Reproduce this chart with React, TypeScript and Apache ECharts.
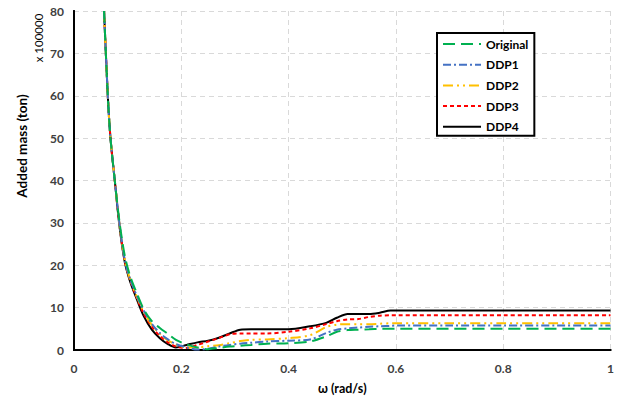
import React, { useEffect, useRef } from "react";
import * as echarts from "echarts";

const omega = [0.056, 0.063, 0.068, 0.076, 0.085, 0.095, 0.105, 0.117, 0.13, 0.145, 0.16, 0.175, 0.19, 0.21, 0.23, 0.25, 0.27, 0.29, 0.31, 0.33, 0.36, 0.4, 0.44, 0.47, 0.49, 0.51, 0.53, 0.55, 0.57, 0.59, 0.6, 0.7, 0.8, 0.9, 1.0];

const original = [80, 60, 50, 40, 30, 22, 17.3, 13.4, 9.6, 6.8, 5.2, 3.8, 2.4, 1.3, 0.6, 0.2, 0.5, 0.8, 1.0, 1.2, 1.5, 1.6, 2.0, 3.2, 4.3, 4.7, 4.8, 4.9, 5.0, 5.0, 5.0, 5.0, 5.0, 5.0, 5.0];
const ddp1 = [80, 60, 50, 40, 29.5, 21, 16.6, 12.8, 9.3, 6.2, 4.0, 2.5, 1.4, 0.6, 0.1, 0.3, 0.8, 1.2, 1.5, 1.7, 2.0, 2.2, 2.5, 4.0, 4.8, 5.1, 5.3, 5.5, 5.6, 5.7, 5.8, 5.8, 5.8, 5.8, 5.8];
const ddp2 = [80, 60, 50, 40, 29.5, 21, 16.5, 12.6, 9.0, 5.9, 3.8, 2.3, 1.3, 0.6, 0.6, 0.9, 1.1, 1.6, 2.1, 2.4, 2.5, 2.8, 3.5, 5.4, 6.0, 6.1, 6.1, 6.1, 6.2, 6.3, 6.3, 6.3, 6.3, 6.3, 6.3];
const ddp3 = [80, 60, 50, 40, 29.2, 20.8, 16.3, 12.3, 8.6, 5.5, 3.3, 1.8, 0.8, 0.5, 1.2, 2.0, 2.8, 3.7, 3.9, 3.9, 3.9, 4.3, 5.1, 6.1, 6.8, 7.2, 7.3, 7.8, 8.1, 8.2, 8.2, 8.2, 8.2, 8.2, 8.2];
const ddp4 = [80, 60, 50, 40, 29, 20.5, 16, 12, 8, 4.8, 2.8, 1.4, 0.6, 1.2, 1.8, 2.2, 2.9, 3.9, 4.8, 4.9, 4.9, 4.9, 5.6, 6.4, 7.6, 8.5, 8.5, 8.5, 8.8, 9.3, 9.3, 9.3, 9.3, 9.3, 9.3];

const seriesNames = ["Original", "DDP1", "DDP2", "DDP3", "DDP4"];
const seriesValues = [original, ddp1, ddp2, ddp3, ddp4];
const seriesColors = ["#00B050", "#4472C4", "#FFC000", "#FF0000", "#000000"];
const seriesDash: any[] = [[12, 6], [8, 3, 2, 3], [10, 4, 2, 4, 2, 4], [4, 3], "solid"];

const FONT = "Lato, 'Open Sans', sans-serif";

export default function App() {
  const ref = useRef<HTMLDivElement>(null);
  useEffect(() => {
    if (!ref.current) return;
    const chart = echarts.init(ref.current, undefined, { renderer: "svg" });
    const border = { show: true, lineStyle: { color: "#000", width: 2 } };
    chart.setOption({
      animation: false,
      backgroundColor: "#fff",
      grid: { left: 74, right: 6, top: 11, bottom: 50 },
      legend: {
        orient: "vertical",
        left: 437,
        top: 33,
        padding: [5, 6, 3, 5],
        borderColor: "#000",
        borderWidth: 2,
        backgroundColor: "#fff",
        itemWidth: 38,
        itemHeight: 14,
        itemGap: 8.7,
        itemStyle: { opacity: 0 },
        textStyle: { fontFamily: FONT, fontWeight: "bold", fontSize: 12, color: "#000" },
        data: seriesNames,
      },
      xAxis: [
        {
          type: "value",
          min: 0,
          max: 1,
          interval: 0.2,
          axisLine: border,
          axisTick: { show: false },
          splitLine: { show: true, lineStyle: { type: [5, 4], color: "#d9d9d9", width: 1 } },
          axisLabel: {
            fontFamily: FONT,
            fontWeight: "bold",
            fontSize: 12,
            color: "#404040",
            margin: 12,
            formatter: (v: number) => String(Math.round(v * 10) / 10),
          },
          name: "ω (rad/s)",
          nameLocation: "middle",
          nameGap: 32,
          nameTextStyle: { fontFamily: FONT, fontWeight: "bold", fontSize: 12.5, color: "#000" },
        },
        {
          type: "value",
          position: "top",
          min: 0,
          max: 1,
          interval: 0.2,
          axisLine: border,
          axisTick: { show: false },
          axisLabel: { show: false },
          splitLine: { show: false },
        },
      ],
      yAxis: [
        {
          type: "value",
          min: 0,
          max: 80,
          interval: 10,
          axisLine: border,
          axisTick: { show: false },
          splitLine: { show: true, lineStyle: { type: [5, 4], color: "#d9d9d9", width: 1 } },
          axisLabel: {
            fontFamily: FONT,
            fontWeight: "bold",
            fontSize: 12,
            color: "#404040",
            margin: 10,
          },
        },
        {
          type: "value",
          position: "right",
          min: 0,
          max: 80,
          interval: 10,
          axisLine: border,
          axisTick: { show: false },
          axisLabel: { show: false },
          splitLine: { show: false },
        },
      ],
      graphic: [
        {
          type: "text",
          x: 22,
          y: 146,
          rotation: Math.PI / 2,
          style: {
            text: "Added mass (ton)",
            fontFamily: FONT,
            fontWeight: "bold",
            fontSize: 13.5,
            fill: "#000",
            align: "center",
            verticalAlign: "middle",
          },
        },
        {
          type: "text",
          x: 38,
          y: 38,
          rotation: Math.PI / 2,
          style: {
            text: "x 100000",
            fontFamily: FONT,
            fontSize: 11.5,
            fill: "#000",
            align: "center",
            verticalAlign: "middle",
          },
        },
      ],
      series: seriesNames.map((name, i) => ({
        name,
        type: "line",
        smooth: 0.3,
        symbol: "none",
        clip: true,
        data: omega.map((x, j) => [x, seriesValues[i][j]]),
        lineStyle: { color: seriesColors[i], width: 2, type: seriesDash[i] },
        itemStyle: { color: seriesColors[i] },
        z: 10 - i,
      })),
    });
    return () => chart.dispose();
  }, []);
  return (
    <div
      ref={ref}
      style={{ width: 617, height: 400, position: "absolute", left: 0, top: 0 }}
    />
  );
}
